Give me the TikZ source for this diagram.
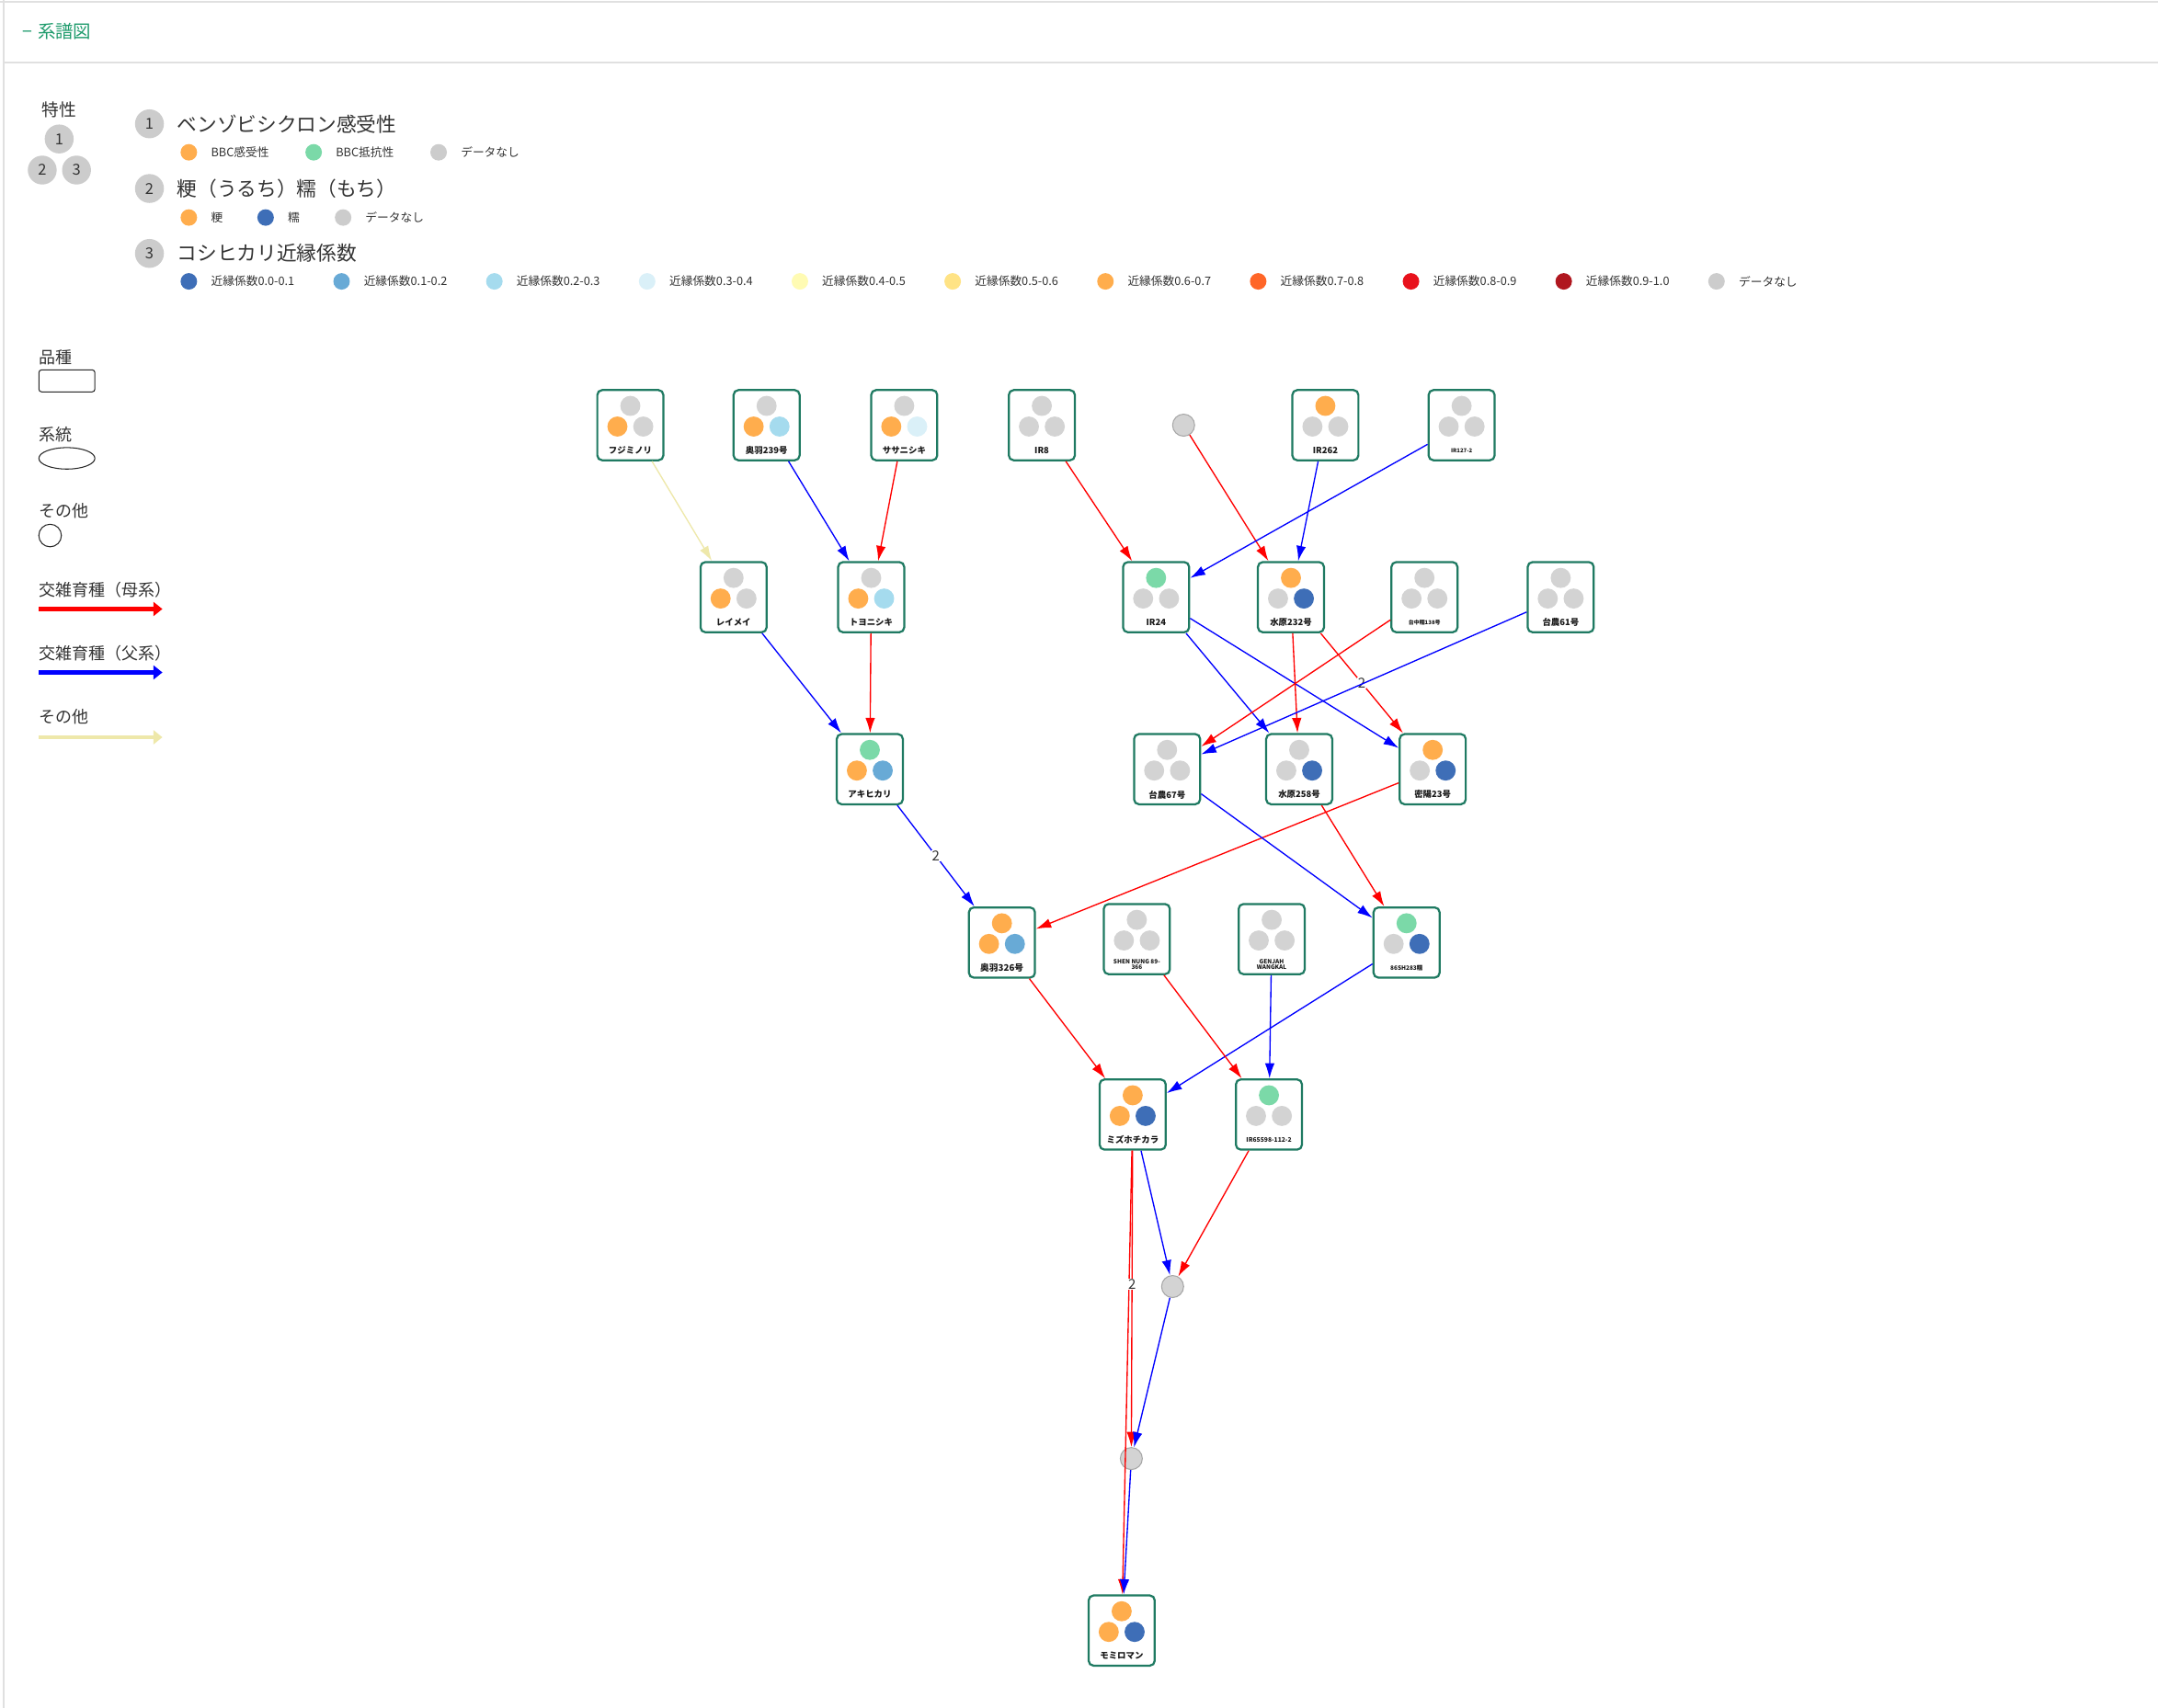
\documentclass[tikz,border=0pt]{standalone}
\usepackage{fontspec}
\setmainfont{Noto Sans CJK JP}
\usetikzlibrary{arrows.meta,shapes.geometric}
\definecolor{cOr}{HTML}{FFAD4D}
\definecolor{cGr}{HTML}{7BD9A8}
\definecolor{cGy}{HTML}{D3D3D3}
\definecolor{cLg}{HTML}{CCCCCC}
\definecolor{cB0}{HTML}{3E6EB7}
\definecolor{cB1}{HTML}{68AAD6}
\definecolor{cB2}{HTML}{A5DBEE}
\definecolor{cB3}{HTML}{DAF0F8}
\definecolor{cY4}{HTML}{FFFBB3}
\definecolor{cY5}{HTML}{FFE385}
\definecolor{cO6}{HTML}{FFAD4D}
\definecolor{cO7}{HTML}{FF6628}
\definecolor{cR8}{HTML}{E8121C}
\definecolor{cR9}{HTML}{B0171F}
\definecolor{tealb}{HTML}{1F7A62}
\definecolor{titlegreen}{HTML}{1E9B6C}
\definecolor{beige}{HTML}{EEE8AA}
\definecolor{mred}{HTML}{FF0000}
\definecolor{pblue}{HTML}{0000FF}
\definecolor{txt}{HTML}{333333}
\definecolor{framegray}{HTML}{E0E0E0}
\tikzset{
  variety/.style={draw=tealb, line width=1.5pt, rounded corners=3.5pt, minimum width=48pt, minimum height=51pt, inner sep=0pt, fill=white},
  othernode/.style={circle, draw=black!35, fill=cGy, minimum size=16pt, inner sep=0pt, line width=0.7pt},
  mat/.style={draw=mred, line width=0.9pt, -{Latex[length=11pt,width=7pt]}},
  pat/.style={draw=pblue, line width=0.9pt, -{Latex[length=11pt,width=7pt]}},
  oth/.style={draw=beige, line width=0.9pt, -{Latex[length=11pt,width=7pt]}},
  elab/.style={font=\fontsize{10}{10}\selectfont, text=txt, fill=white, inner sep=0.5pt},
  vlab/.style={inner sep=0pt, text=black!90, align=center},
  legtxt/.style={anchor=west, inner sep=0pt, text=txt, font=\fontsize{8.5}{9}\selectfont},
  headtxt/.style={anchor=west, inner sep=0pt, text=txt, font=\fontsize{14.5}{15}\selectfont},
  numcirc/.style={circle, fill=cLg, minimum size=21pt, inner sep=0pt, text=txt, font=\fontsize{11}{11}\selectfont},
  lefttxt/.style={anchor=west, inner sep=0pt, text=txt, font=\fontsize{12}{12}\selectfont},
}
% name, x, y, top, bottom-left, bottom-right, font size, label
\newcommand\varnode[8]{%
  \node[variety] (#1) at (#2,#3) {};
  \fill[#4] (#2,#3-14) circle[radius=7.3pt];
  \fill[#5] (#2-9.4,#3+1) circle[radius=7.3pt];
  \fill[#6] (#2+9.4,#3+1) circle[radius=7.3pt];
  \node[vlab, font=\fontsize{#7}{#7}\selectfont\bfseries] (#1-lab) at (#2,#3+18.5) {#8};
}
\newcommand\legdot[5]{%
  \fill[#2] (#3,#4) circle[radius=6pt];
  \node[legtxt] (#1) at (#3+16,#4) {#5};
}
\begin{document}
\begin{tikzpicture}[x=1pt,y=-1pt]
\useasboundingbox (0,0) rectangle (1568,1241);
\fill[white] (0,0) rectangle (1568,1241);
% frame
\draw[framegray, line width=1.5pt] (0,1.2) -- (1568,1.2);
\draw[framegray, line width=1.5pt] (2.8,0) -- (2.8,1241);
\draw[framegray, line width=1pt] (2.8,45.5) -- (1568,45.5);
\node[anchor=west, inner sep=0pt, text=titlegreen, font=\fontsize{13}{13}\selectfont] (title) at (16,22.5) {−\hspace{4pt}系譜図};
% trait key
\node[inner sep=0pt, text=txt, font=\fontsize{12.5}{13}\selectfont] (tokusei) at (43,80) {特性};
\node[numcirc] (k1) at (43,101) {1};
\node[numcirc] (k2) at (30.7,123.6) {2};
\node[numcirc] (k3) at (55.6,123.6) {3};
% trait legends
\node[numcirc] (h1) at (108.6,90) {1};
\node[headtxt] (h1t) at (128.5,90) {ベンゾビシクロン感受性};
\legdot{a1}{cOr}{137.2}{110.7}{BBC感受性}
\legdot{a2}{cGr}{227.9}{110.7}{BBC抵抗性}
\legdot{a3}{cLg}{318.7}{110.7}{データなし}
\node[numcirc] (h2) at (108.6,137) {2};
\node[headtxt] (h2t) at (128.5,137) {粳（うるち）糯（もち）};
\legdot{b1}{cOr}{137.2}{158.1}{粳}
\legdot{b2}{cB0}{193}{158.1}{糯}
\legdot{b3}{cLg}{249.3}{158.1}{データなし}
\node[numcirc] (h3) at (108.6,184.2) {3};
\node[headtxt] (h3t) at (128.5,184.2) {コシヒカリ近縁係数};
\legdot{c0}{cB0}{137.2}{204.5}{近縁係数0.0-0.1}
\legdot{c1}{cB1}{248.2}{204.5}{近縁係数0.1-0.2}
\legdot{c2}{cB2}{359.2}{204.5}{近縁係数0.2-0.3}
\legdot{c3}{cB3}{470.2}{204.5}{近縁係数0.3-0.4}
\legdot{c4}{cY4}{581.2}{204.5}{近縁係数0.4-0.5}
\legdot{c5}{cY5}{692.2}{204.5}{近縁係数0.5-0.6}
\legdot{c6}{cO6}{803.2}{204.5}{近縁係数0.6-0.7}
\legdot{c7}{cO7}{914.2}{204.5}{近縁係数0.7-0.8}
\legdot{c8}{cR8}{1025.2}{204.5}{近縁係数0.8-0.9}
\legdot{c9}{cR9}{1136.2}{204.5}{近縁係数0.9-1.0}
\legdot{c10}{cLg}{1247.2}{204.5}{データなし}
% shape / edge legend
\node[lefttxt] (lg1) at (28.3,259.5) {品種};
\node[draw=black!85, line width=0.7pt, rounded corners=2pt, minimum width=40.7pt, minimum height=16pt, inner sep=0pt] (lg1s) at (48.6,276.8) {};
\node[lefttxt] (lg2) at (28.3,316) {系統};
\node[draw=black!85, line width=0.7pt, ellipse, minimum width=40.7pt, minimum height=15.6pt, inner sep=0pt] (lg2s) at (48.6,333.1) {};
\node[lefttxt] (lg3) at (28.3,371.5) {その他};
\node[draw=black!85, line width=0.7pt, circle, minimum size=16.4pt, inner sep=0pt] (lg3s) at (36.4,389.2) {};
\node[lefttxt] (lg4) at (28.3,428.6) {交雑育種（母系）};
\coordinate (lg4a) at (28.3,442.6);
\coordinate (lg4b) at (118,442.6);
\draw[mred, line width=2.7pt, -{Triangle[length=6.5pt,width=10pt]}] (lg4a) -- (lg4b);
\node[lefttxt] (lg5) at (28.3,475) {交雑育種（父系）};
\coordinate (lg5a) at (28.3,488.7);
\coordinate (lg5b) at (118,488.7);
\draw[pblue, line width=2.7pt, -{Triangle[length=6.5pt,width=10pt]}] (lg5a) -- (lg5b);
\node[lefttxt] (lg6) at (28.3,521.2) {その他};
\coordinate (lg6a) at (28.3,535.8);
\coordinate (lg6b) at (118,535.8);
\draw[beige, line width=2.7pt, -{Triangle[length=6.5pt,width=10pt]}] (lg6a) -- (lg6b);
% ---- pedigree nodes ----
\varnode{fujiminori}{458}{309}{cGy}{cOr}{cGy}{6.3}{フジミノリ}
\varnode{ou239}{557}{309}{cGy}{cOr}{cB2}{6.3}{奥羽239号}
\varnode{sasanishiki}{657}{309}{cGy}{cOr}{cB3}{6.3}{ササニシキ}
\varnode{ir8}{757}{309}{cGy}{cGy}{cGy}{6.3}{IR8}
\node[othernode] (o1) at (860,309) {};
\varnode{ir262}{963}{309}{cOr}{cGy}{cGy}{6.3}{IR262}
\varnode{ir127}{1062}{309}{cGy}{cGy}{cGy}{4}{IR127-2}
\varnode{reimei}{533}{434}{cGy}{cOr}{cGy}{6.3}{レイメイ}
\varnode{toyonishiki}{633}{434}{cGy}{cOr}{cB2}{6.3}{トヨニシキ}
\varnode{ir24}{840}{434}{cGr}{cGy}{cGy}{6.3}{IR24}
\varnode{suigen232}{938}{434}{cOr}{cGy}{cB0}{6.3}{水原232号}
\varnode{taichu138}{1035}{434}{cGy}{cGy}{cGy}{4}{台中糯138号}
\varnode{tainung61}{1134}{434}{cGy}{cGy}{cGy}{6.3}{台農61号}
\varnode{akihikari}{632}{559}{cGr}{cOr}{cB1}{6.3}{アキヒカリ}
\varnode{tainung67}{848}{559}{cGy}{cGy}{cGy}{6.3}{台農67号}
\varnode{suigen258}{944}{559}{cGy}{cGy}{cB0}{6.3}{水原258号}
\varnode{milyang23}{1041}{559}{cOr}{cGy}{cB0}{6.3}{密陽23号}
\varnode{ou326}{728}{685}{cOr}{cOr}{cB1}{6.5}{奥羽326号}
\varnode{shennung}{826}{682.5}{cGy}{cGy}{cGy}{4.3}{SHEN NUNG 89-\\366}
\varnode{genjah}{924}{682.5}{cGy}{cGy}{cGy}{4.3}{GENJAH\\WANGKAL}
\varnode{sh283}{1022}{685}{cGr}{cGy}{cB0}{4.3}{86SH283糯}
\varnode{mizuho}{823}{810}{cOr}{cOr}{cB0}{6.3}{ミズホチカラ}
\varnode{ir65598}{922}{810}{cGr}{cGy}{cGy}{4.5}{IR65598-112-2}
\node[othernode] (o2) at (852,935) {};
\node[othernode] (o3) at (822,1060) {};
\varnode{momiroman}{815}{1185}{cOr}{cOr}{cB0}{6.3}{モミロマン}
% ---- edges ----
\draw[oth] (fujiminori) -- (reimei);
\draw[pat] (ou239) -- (toyonishiki);
\draw[mat] (sasanishiki) -- (toyonishiki);
\draw[mat] (ir8) -- (ir24);
\draw[mat] (o1) -- (suigen232);
\draw[pat] (ir262) -- (suigen232);
\draw[pat] (ir127) -- (ir24);
\draw[pat] (reimei) -- (akihikari);
\draw[mat] (toyonishiki) -- (akihikari);
\draw[pat] (ir24) -- (suigen258);
\draw[pat] (ir24) -- (milyang23);
\draw[mat] (suigen232) -- (suigen258);
\draw[mat] (suigen232) -- node[elab] (l1) {2} (milyang23);
\draw[mat] (taichu138) -- (tainung67);
\draw[pat] (tainung61) -- (tainung67);
\draw[pat] (akihikari) -- node[elab] (l2) {2} (ou326);
\draw[mat] (milyang23) -- (ou326);
\draw[pat] (tainung67) -- (sh283);
\draw[mat] (suigen258) -- (sh283);
\draw[mat] (ou326) -- (mizuho);
\draw[pat] (sh283) -- (mizuho);
\draw[mat] (shennung) -- (ir65598);
\draw[pat] (genjah) -- (ir65598);
\draw[pat] (mizuho) -- (o2);
\draw[mat] (ir65598) -- (o2);
\draw[mat] (mizuho) -- (momiroman);
\draw[mat] (mizuho) -- node[elab, pos=0.45] (l3) {2} (o3);
\draw[pat] (o2) -- (o3);
\draw[pat] (o3) -- (momiroman);
\end{tikzpicture}
\end{document}
